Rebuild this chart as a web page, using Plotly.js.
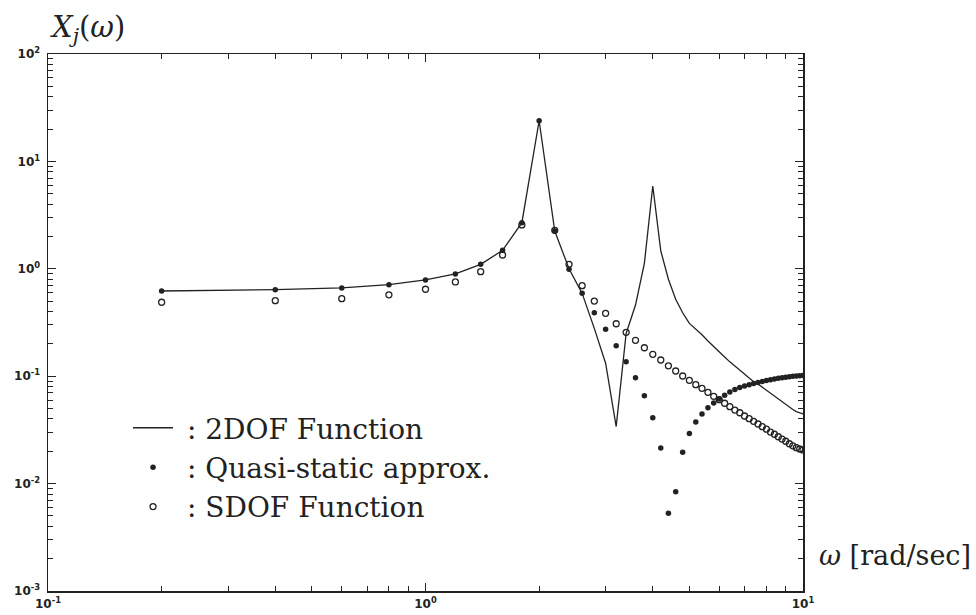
<!DOCTYPE html>
<html><head><meta charset="utf-8">
<script src="https://cdn.plot.ly/plotly-3.0.1.min.js"></script>
<style>html,body{margin:0;padding:0;background:#fff}</style>
</head><body>
<div id="chart" style="width:976px;height:615px"></div>
<script>
// frequency samples [rad/sec]
const omega = [0.2,0.4,0.6,0.8,1.0,1.2,1.4,1.6,1.8,2.0,
               2.2,2.4,2.6,2.8,3.0,3.2,3.4,3.6,3.8,4.0,
               4.2,4.4,4.6,4.8,5.0,5.2,5.4,5.6,5.8,6.0,
               6.2,6.4,6.6,6.8,7.0,7.2,7.4,7.6,7.8,8.0,
               8.2,8.4,8.6,8.8,9.0,9.2,9.4,9.6,9.8,10.0];
// 2DOF function (solid line)
const twoDOF = [0.621,0.639,0.663,0.711,0.787,0.895,1.10,1.486,2.69,23.9,
                2.25,1.0,0.59,0.279,0.132,0.034,0.25,0.46,1.12,5.9,
                1.47,0.80,0.52,0.39,0.31,0.275,0.243,0.213,0.188,0.168,
                0.151,0.136,0.124,0.113,0.104,0.096,0.089,0.0845,0.079,0.0738,
                0.069,0.0644,0.0605,0.057,0.054,0.0515,0.049,0.0468,0.0455,0.0445];
// Quasi-static approximation (filled markers)
const quasiStatic = [0.621,0.639,0.663,0.711,0.787,0.895,1.10,1.486,2.69,23.9,
                     2.25,0.99,0.591,0.39,0.273,0.192,0.136,0.0968,0.0658,0.0411,
                     0.0214,0.0053,0.0084,0.0196,0.0292,0.0375,0.0445,0.0509,0.0563,0.0612,
                     0.0665,0.0712,0.0752,0.0785,0.0811,0.0834,0.0855,0.0873,0.0893,0.091,
                     0.0925,0.0941,0.0955,0.0968,0.098,0.099,0.0998,0.1005,0.101,0.1017];
// SDOF function (open markers)
const sdof = [0.488,0.505,0.527,0.572,0.645,0.754,0.94,1.345,2.56,null,
              2.28,1.10,0.696,0.501,0.385,0.308,0.256,0.216,0.184,0.160,
              0.1416,0.125,0.1118,0.1004,0.0916,0.0834,0.0771,0.0708,0.065,0.0605,
              0.056,0.052,0.0484,0.0457,0.0426,0.0402,0.038,0.0359,0.0339,0.0321,
              0.0302,0.0288,0.0273,0.026,0.0248,0.0235,0.0225,0.0216,0.021,0.0206];
const seriesNames = ['\u00a0: 2DOF Function', '\u00a0: Quasi-static approx.', '\u00a0: SDOF Function'];
const xTickVals = [0.1, 1, 10];
const xTickText = ['10<sup>-1</sup>', '10<sup>0</sup>', '10<sup>1</sup>'];
const yTickVals = [0.001, 0.01, 0.1, 1, 10, 100];
const yTickText = ['10<sup>-3</sup>', '10<sup>-2</sup>', '10<sup>-1</sup>', '10<sup>0</sup>', '10<sup>1</sup>', '10<sup>2</sup>'];

function minorVals(lo, hi) {
  const v = [];
  for (let e = lo; e < hi; e++) for (let d = 2; d <= 9; d++) v.push(d * Math.pow(10, e));
  return v;
}
const ink = '#222';
const serif = 'DejaVu Serif, Liberation Serif, serif';
const traces = [
  {x: omega, y: twoDOF, name: seriesNames[0], type: 'scatter', mode: 'lines',
   line: {color: ink, width: 1.3}, legendrank: 1},
  {x: omega, y: sdof, name: seriesNames[2], type: 'scatter', mode: 'markers',
   marker: {symbol: 'circle-open', size: 6, color: ink, line: {width: 1.3, color: ink}}, legendrank: 3},
  {x: omega, y: quasiStatic, name: seriesNames[1], type: 'scatter', mode: 'markers',
   marker: {symbol: 'circle', size: 5.5, color: ink}, legendrank: 2}
];
const axisCommon = {
  type: 'log', showgrid: false, zeroline: false, showline: true,
  linecolor: ink, linewidth: 1.5, mirror: 'ticks',
  ticks: 'inside', ticklen: 8, tickwidth: 1.2, tickcolor: ink,
  tickmode: 'array',
  tickfont: {family: 'DejaVu Sans, Liberation Sans, sans-serif', size: 12, color: ink, weight: 'bold'}
};
const layout = {
  width: 976, height: 615,
  margin: {l: 48, r: 173, t: 54, b: 24},
  paper_bgcolor: '#fff', plot_bgcolor: '#fff',
  showlegend: true,
  legend: {x: 0.106, y: 0.35, xanchor: 'left', yanchor: 'top',
           traceorder: 'normal', bgcolor: 'rgba(0,0,0,0)',
           font: {family: serif, size: 28, color: ink},
           itemwidth: 40, tracegroupgap: 0},
  xaxis: Object.assign({}, axisCommon, {range: [-1, 1], tickvals: xTickVals, ticktext: xTickText,
    ticklabelstandoff: 1,
    minor: {tickmode: 'array', tickvals: minorVals(-1, 1), ticks: 'inside', ticklen: 5, tickwidth: 1, tickcolor: ink, showgrid: false}}),
  yaxis: Object.assign({}, axisCommon, {range: [-3, 2], tickvals: yTickVals, ticktext: yTickText,
    ticklabelstandoff: 4,
    minor: {tickmode: 'array', tickvals: minorVals(-3, 2), ticks: 'inside', ticklen: 5, tickwidth: 1, tickcolor: ink, showgrid: false}}),
  annotations: [
    {xref: 'paper', yref: 'paper', x: 0, y: 1.047, xanchor: 'left', yanchor: 'middle', showarrow: false,
     text: '<i>X<sub>j</sub></i>(<i>ω</i>)', font: {family: serif, size: 29, color: ink}},
    {xref: 'paper', yref: 'paper', x: 1.019, y: 0.067, xanchor: 'left', yanchor: 'middle', showarrow: false,
     text: '<i>ω</i> [rad/sec]', font: {family: serif, size: 27, color: ink}}
  ]
};
Plotly.newPlot('chart', traces, layout, {staticPlot: true, displayModeBar: false});
</script>
</body></html>
